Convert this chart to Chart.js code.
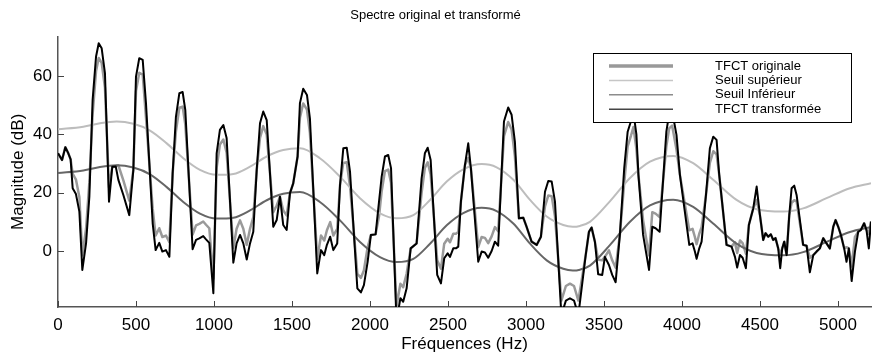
<!DOCTYPE html>
<html>
<head>
<meta charset="utf-8">
<script src="https://cdn.jsdelivr.net/npm/chart.js@4"></script>
<style>
  html, body { margin: 0; padding: 0; background: #fff; }
  #wrap { width: 874px; height: 358px; }
</style>
</head>
<body>
<div id="wrap"><canvas id="grafikSpectre"></canvas></div>
<script>
// =====================================================
// DATA
// =====================================================
const frequences = [
  0, 26, 47, 66, 81, 94, 115, 137, 156, 180,
  201, 222, 244, 261, 280, 301, 327, 348, 370, 387,
  419, 457, 483, 500, 521, 543, 564, 607, 626, 649,
  669, 692, 714, 735, 756, 778, 799, 816, 863, 885,
  906, 931, 949, 970, 996, 1017, 1038, 1060, 1081, 1124,
  1145, 1167, 1188, 1210, 1231, 1252, 1274, 1295, 1316, 1338,
  1380, 1402, 1423, 1444, 1466, 1487, 1508, 1536, 1551, 1572,
  1596, 1615, 1662, 1686, 1707, 1724, 1745, 1765, 1790, 1808,
  1829, 1851, 1872, 1919, 1942, 1961, 1985, 2006, 2036, 2058,
  2075, 2096, 2117, 2135, 2170, 2195, 2213, 2235, 2261, 2299,
  2331, 2352, 2370, 2389, 2431, 2455, 2476, 2498, 2513, 2534,
  2551, 2566, 2583, 2609, 2630, 2647, 2694, 2716, 2737, 2758,
  2780, 2801, 2822, 2859, 2886, 2908, 2929, 2955, 2983, 3004,
  3036, 3069, 3096, 3122, 3143, 3165, 3186, 3227, 3256, 3282,
  3308, 3336, 3383, 3404, 3421, 3442, 3463, 3489, 3506, 3532,
  3553, 3575, 3602, 3630, 3652, 3673, 3689, 3708, 3721, 3751,
  3789, 3810, 3831, 3857, 3900, 3918, 3937, 3965, 3987, 4047,
  4068, 4083, 4094, 4111, 4126, 4154, 4179, 4201, 4222, 4239,
  4286, 4318, 4340, 4354, 4372, 4389, 4410, 4429, 4457, 4479,
  4500, 4521, 4536, 4553, 4570, 4585, 4600, 4617, 4630, 4643,
  4656, 4671, 4688, 4703, 4720, 4735, 4777, 4799, 4820, 4842,
  4863, 4884, 4906, 4927, 4948, 4970, 4985, 5002, 5019, 5040,
  5055, 5070, 5088, 5109, 5130, 5147, 5168, 5183, 5198, 5212
];

const tfctOriginale = [
  33.5, 31.2, 35.6, 33.5, 31.4, 26.5, 24.5, 18.5, -1.5, 7.7,
  23.6, 46.8, 61.7, 66.2, 64.5, 56, 21.9, 28.9, 29, 29.4,
  24.2, 17.3, 27.8, 54.8, 61.1, 60.5, 45.7, 14.5, 5.3, 7.8,
  4.8, 5.3, 3, 26.6, 41, 49.1, 49.5, 43.4, 5.6, 8.8,
  9.3, 10.1, 9, 7.8, -9.5, 28.5, 36.5, 38.2, 33.7, 1,
  7.6, 10.5, 7.6, 2.1, 7.6, 11.6, 27.8, 38.8, 42.8, 39.9,
  13.3, 15.6, 18.6, 13.9, 12.2, 19.8, 23.2, 32.4, 45.7, 50.6,
  48.5, 40.5, -2.7, 5.3, 3.6, 7.1, 9.9, 5.3, 7.6, 22.6,
  30.2, 30.4, 22.2, -7.8, -9.2, -6.7, 1.3, 5.5, 5.7, 11.9,
  20.5, 27.4, 27.9, 23.4, -19, -11.2, -12.4, -7.8, 0.9, 2.6,
  19.9, 28.5, 30.4, 26.2, -3.2, -6.1, 2.5, 4.2, 3, 5.9,
  5.9, 6.5, 16.9, 29.5, 31.9, 28.4, 1.3, 4.8, 4.5, 2.7,
  5, 8.2, 6.8, 39.4, 44.2, 41.7, 32.5, 11.2, 11.4, 8.3,
  3.2, 2.1, 4.9, 15.3, 19, 18.8, 11.9, -17, -12, -11.2,
  -12, -17, -1.4, 6.6, 8, 3.2, -3, -3.2, -2, 0.2,
  -3.2, -5.7, 5.5, 23.4, 35.9, 39.5, 42.5, 35, 26.1, 10.5,
  -1.5, 13.3, 12.8, 11.6, 35.9, 42, 43, 34.8, 26.1, 7.1,
  7.6, 4.8, 2.3, 5.9, 8.2, 19.2, 30.2, 34.2, 33.1, 26.1,
  2.1, 1.5, 3, -0.7, 3.6, 2.7, -0.9, 8.9, 14.6, 17.5,
  12.3, 3.8, 6.1, 4.9, 5.7, 3.8, 4.4, 0.9, -0.9, 0.9,
  3.2, -1.4, 12.3, 16.5, 17.4, 17, 2.1, 1.8, -2.3, -1.4,
  -0.2, 0.9, 4.4, 2.6, 0.9, 8.3, 10.6, 8.3, 5.5, 0.9,
  1.3, 0.9, -5.3, 4.8, 6.6, 7.2, 9.5, 7.2, 5.9, 10.1
];

const tfctTransformee = [
  33.5, 31.2, 35.6, 33.5, 31.4, 21.5, 19.5, 13.5, -6.5, 2.7,
  18.6, 51.8, 66.7, 71.2, 69.5, 61, 16.9, 28.9, 29, 24.4,
  19.2, 12.3, 27.8, 59.8, 66.1, 65.5, 50.7, 9.5, 0.3, 2.8,
  -0.2, 0.3, -2, 26.6, 46, 54.1, 54.5, 48.4, 0.6, 3.8,
  4.3, 5.1, 4, 2.8, -14.5, 33.5, 41.5, 43.2, 38.7, -4,
  2.6, 5.5, 2.6, -2.9, 2.6, 6.6, 27.8, 43.8, 47.8, 44.9,
  8.3, 10.6, 18.6, 8.9, 7.2, 19.8, 23.2, 32.4, 50.7, 55.6,
  53.5, 45.5, -7.7, 0.3, -1.4, 2.1, 4.9, 0.3, 2.6, 22.6,
  35.2, 35.4, 27.2, -12.8, -14.2, -11.7, -3.7, 5.5, 5.7, 16.9,
  25.5, 32.4, 32.9, 28.4, -24, -16.2, -17.4, -12.8, 0.9, 2.6,
  24.9, 33.5, 35.4, 31.2, -8.2, -11.1, -2.5, -0.8, -2, 0.9,
  0.9, 1.5, 16.9, 29.5, 36.9, 28.4, -3.7, -0.2, -0.5, -2.3,
  0, 3.2, 1.8, 44.4, 49.2, 46.7, 37.5, 11.2, 11.4, 8.3,
  3.2, 2.1, 4.9, 20.3, 24, 23.8, 16.9, -22, -17, -16.2,
  -17, -22, -1.4, 6.6, 8, 3.2, -8, -8.2, -2, -4.8,
  -8.2, -10.7, 5.5, 28.4, 40.9, 44.5, 47.5, 40, 26.1, 5.5,
  -6.5, 8.3, 7.8, 6.6, 40.9, 47, 48, 39.8, 26.1, 2.1,
  2.6, -0.2, -2.7, 0.9, 3.2, 19.2, 35.2, 39.2, 38.1, 26.1,
  2.1, 1.5, -2, -5.7, -1.4, -2.3, -5.9, 8.9, 14.6, 22.1,
  12.3, 3.8, 6.1, 4.9, 5.7, 3.8, 4.4, 0.9, -5.9, 0.9,
  3.2, -1.4, 12.3, 21.5, 22.4, 19.2, 2.1, 1.8, -7.3, -1.4,
  -0.2, 0.9, 4.4, 2.6, 0.9, 8.3, 10.6, 8.3, 5.5, 0.9,
  -3.7, 0.9, -10.3, -0.2, 6.6, 7.2, 9.5, 7.2, 0.9, 10.1
];

// seuils (courbes lisses)
const seuilFrequences = [
  0, 162, 269, 376, 483, 590, 697, 803, 910, 1017,
  1124, 1231, 1338, 1444, 1551, 1679, 1808, 1936, 2064, 2171,
  2278, 2385, 2492, 2598, 2716, 2812, 2919, 3026, 3133, 3239,
  3300, 3346, 3410, 3538, 3667, 3795, 3944, 4072, 4200, 4350,
  4479, 4649, 4777, 4927, 5077, 5212
];

const seuilSuperieur = [
  41.7, 42.6, 43.8, 44.4, 43.6, 41.3, 36.9, 31.8, 27.8, 26.1,
  26.4, 28.9, 32.4, 34.6, 35.2, 31.8, 25.5, 18.1, 12.9, 11.2,
  12.3, 17.5, 23.8, 28, 29.8, 28.7, 24.4, 17.5, 11.8, 8.9,
  8.3, 8.6, 10, 17, 25, 30.6, 32.6, 30.1, 24.4, 17.5,
  14.3, 13.5, 14.6, 18.1, 21.5, 23.2
];

const seuilInferieur = [
  26.7, 27.6, 28.8, 29.4, 28.6, 26.3, 21.9, 16.8, 12.8, 11.1,
  11.4, 13.9, 17.4, 19.6, 20.2, 16.8, 10.5, 3.1, -2.1, -3.8,
  -2.7, 2.5, 8.8, 13, 14.8, 13.7, 9.4, 2.5, -3.2, -6.1,
  -6.7, -6.4, -5, 2, 10, 15.6, 17.6, 15.1, 9.4, 2.5,
  -0.7, -1.5, -0.4, 3.1, 6.5, 8.2
];

const xTicks = [0, 500, 1000, 1500, 2000, 2500, 3000, 3500, 4000, 4500, 5000];
const yTicks = [0, 20, 40, 60];

// =====================================================
// FUNGSI BANTU
// =====================================================
function pasangkan(xs, ys) {
    return xs.map((x, i) => ({ x: x, y: ys[i] }));
}

const FONT = '"Liberation Sans", Arial, Helvetica, sans-serif';

// petits traits de graduation vers l'intérieur
const graduationInterieure = {
    id: 'graduationInterieure',
    afterDatasetsDraw(chart) {
        const { ctx, chartArea, scales } = chart;
        ctx.save();
        ctx.strokeStyle = '#444';
        ctx.lineWidth = 1;
        ctx.beginPath();
        xTicks.forEach(v => {
            const px = Math.round(scales.x.getPixelForValue(v)) + 0.5;
            ctx.moveTo(px, chartArea.bottom);
            ctx.lineTo(px, chartArea.bottom - 6);
        });
        yTicks.forEach(v => {
            const py = Math.round(scales.y.getPixelForValue(v)) + 0.5;
            ctx.moveTo(chartArea.left, py);
            ctx.lineTo(chartArea.left + 6, py);
        });
        ctx.stroke();
        ctx.restore();
    }
};

// légende encadrée dans le coin haut droit
const legendeEncadree = {
    id: 'legendeEncadree',
    afterDraw(chart) {
        const { ctx } = chart;
        const box = { x: 593.5, y: 53.5, w: 258, h: 69 };
        const styles = [
            { color: '#999999', width: 3.5 },
            { color: '#c6c6c6', width: 1.5 },
            { color: '#8c8c8c', width: 1.5 },
            { color: '#444444', width: 1.5 }
        ];
        ctx.save();
        ctx.fillStyle = '#fff';
        ctx.fillRect(box.x, box.y, box.w, box.h);
        ctx.strokeStyle = '#000';
        ctx.lineWidth = 1;
        ctx.strokeRect(box.x, box.y, box.w, box.h);
        ctx.font = '13px ' + FONT;
        ctx.textBaseline = 'middle';
        ctx.textAlign = 'left';
        chart.data.datasets.forEach((ds, i) => {
            const y = 66 + i * 14.4;
            ctx.strokeStyle = styles[i].color;
            ctx.lineWidth = styles[i].width;
            ctx.beginPath();
            ctx.moveTo(609, y);
            ctx.lineTo(673, y);
            ctx.stroke();
            ctx.fillStyle = '#000';
            ctx.fillText(ds.label, 715, y);
        });
        ctx.restore();
    }
};

// =====================================================
// GRAFIK
// =====================================================
const ctx = document.getElementById('grafikSpectre').getContext('2d');

new Chart(ctx, {
    type: 'line',
    data: {
        datasets: [
            {
                label: 'TFCT originale',
                data: pasangkan(frequences, tfctOriginale),
                borderColor: '#9a9a9a',
                borderWidth: 2.5,
                pointRadius: 0,
                borderJoinStyle: 'round',
                order: 3
            },
            {
                label: 'Seuil supérieur',
                data: pasangkan(seuilFrequences, seuilSuperieur),
                borderColor: '#bdbdbd',
                borderWidth: 2,
                pointRadius: 0,
                cubicInterpolationMode: 'monotone',
                order: 2
            },
            {
                label: 'Seuil Inférieur',
                data: pasangkan(seuilFrequences, seuilInferieur),
                borderColor: '#666666',
                borderWidth: 2,
                pointRadius: 0,
                cubicInterpolationMode: 'monotone',
                order: 1
            },
            {
                label: 'TFCT transformée',
                data: pasangkan(frequences, tfctTransformee),
                borderColor: '#000000',
                borderWidth: 2,
                pointRadius: 0,
                borderJoinStyle: 'round',
                order: 0
            }
        ]
    },
    options: {
        responsive: true,
        maintainAspectRatio: false,
        animation: false,
        devicePixelRatio: 1,
        layout: { padding: { left: 0, right: 3, top: 0, bottom: 0 } },
        plugins: {
            legend: { display: false },
            tooltip: { enabled: false },
            title: {
                display: true,
                text: 'Spectre original et transformé',
                color: '#000',
                font: { family: FONT, size: 13, weight: 'normal' },
                padding: { top: 8, bottom: 13 }
            }
        },
        scales: {
            x: {
                type: 'linear',
                min: 0,
                max: 5212,
                afterBuildTicks: scale => { scale.ticks = xTicks.map(v => ({ value: v })); },
                afterFit: scale => { scale.height = 51; },
                grid: { display: false, drawTicks: false },
                border: { display: true, color: '#555', width: 1.5 },
                ticks: {
                    color: '#000',
                    font: { family: FONT, size: 17 },
                    padding: 8,
                    maxRotation: 0,
                    autoSkip: false,
                    callback: v => String(v)
                },
                title: {
                    display: true,
                    text: 'Fréquences (Hz)',
                    color: '#000',
                    font: { family: FONT, size: 17 },
                    padding: { top: 0, bottom: 3 }
                }
            },
            y: {
                type: 'linear',
                min: -19.2,
                max: 73.5,
                afterBuildTicks: scale => { scale.ticks = yTicks.map(v => ({ value: v })); },
                afterFit: scale => { scale.width = 58; },
                grid: { display: false, drawTicks: false },
                border: { display: true, color: '#555', width: 1.5 },
                ticks: {
                    color: '#000',
                    font: { family: FONT, size: 17 },
                    padding: 6,
                    callback: v => String(v)
                },
                title: {
                    display: true,
                    text: 'Magnitude (dB)',
                    color: '#000',
                    font: { family: FONT, size: 17 },
                    padding: { top: 8, bottom: 0 }
                }
            }
        }
    },
    plugins: [graduationInterieure, legendeEncadree]
});
</script>
</body>
</html>
